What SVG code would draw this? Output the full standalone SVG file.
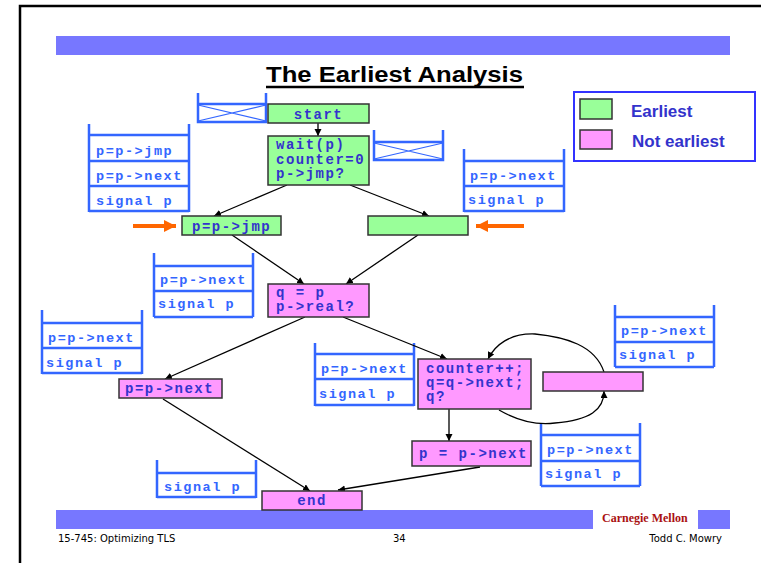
<svg xmlns="http://www.w3.org/2000/svg" width="761" height="563" viewBox="0 0 761 563">
<style>
.band{fill:#7777ff}
.green{fill:#99ff99;stroke:#333;stroke-width:1.5}
.pink{fill:#ff99ff;stroke:#333;stroke-width:1.5}
.nt{font-family:"Liberation Mono","Courier New",monospace;font-weight:bold;font-size:14px;letter-spacing:1.5px;fill:#3333cc}
.an{fill:none;stroke:#3366ff;stroke-width:2.5}
.ax{fill:none;stroke:#3366ff;stroke-width:1.2}
.at{font-family:"Liberation Mono","Courier New",monospace;font-weight:bold;font-size:13.5px;letter-spacing:1.55px;fill:#3366ff}
.edge{fill:none;stroke:#000;stroke-width:1.3;marker-end:url(#ah)}
.orange{fill:none;stroke:#ff6600;stroke-width:4;marker-end:url(#oh)}
.foot{font-family:"DejaVu Sans",sans-serif;font-size:10px;fill:#000}
.leg{font-family:"Liberation Sans",Arial,sans-serif;font-weight:bold;font-size:17px;fill:#3333cc}
</style>
<defs>
<marker id="ah" markerWidth="8" markerHeight="8" refX="7" refY="3.5" orient="auto" markerUnits="userSpaceOnUse">
<path d="M0,0 L7,3.5 L0,7 Z" fill="#000"/>
</marker>
<marker id="oh" markerWidth="14" markerHeight="14" refX="12" refY="6" orient="auto" markerUnits="userSpaceOnUse">
<path d="M0,0 L12,6 L0,12 Z" fill="#ff6600"/>
</marker>
</defs>
<rect width="761" height="563" fill="#fff"/>
<!-- frame -->
<path d="M20,563 V6 H761" fill="none" stroke="#000" stroke-width="2.5"/>
<!-- bands -->
<rect class="band" x="56" y="36" width="674" height="19"/>
<rect class="band" x="56" y="510" width="537" height="19"/>
<rect class="band" x="698" y="510" width="32" height="19"/>
<text x="602" y="522" font-family="Liberation Serif,Times New Roman,serif" font-weight="bold" font-size="12px" fill="#aa1111">Carnegie Mellon</text>
<text class="foot" x="58" y="542">15-745: Optimizing TLS</text>
<text class="foot" x="393" y="542">34</text>
<text class="foot" x="722" y="542" text-anchor="end">Todd C. Mowry</text>
<!-- title -->
<text x="266" y="82" font-family="Liberation Sans,Arial,sans-serif" font-weight="bold" font-size="22px" fill="#000" textLength="257" lengthAdjust="spacingAndGlyphs">The Earliest Analysis</text>
<line x1="266" y1="87" x2="524" y2="87" stroke="#000" stroke-width="2.5"/>
<!-- legend -->
<g id="legend">
<rect x="574" y="92" width="181" height="69" fill="#fff" stroke="#3333ff" stroke-width="2"/>
<rect x="580" y="99" width="32" height="20" fill="#99ff99" stroke="#333" stroke-width="1.5"/>
<rect x="580" y="130" width="32" height="19" fill="#ff99ff" stroke="#333" stroke-width="1.5"/>
<text class="leg" x="631" y="117">Earliest</text>
<text class="leg" x="632" y="147">Not earliest</text>
</g>
<!-- annotation boxes -->
<g id="ann-cross1">
<path class="an" d="M198,93 V122 H266 V93 M198,104 H266"/>
<path class="ax" d="M198,105 L266,121 M198,121 L266,105"/>
</g>
<g id="ann-cross2">
<path class="an" d="M374,130 V160 H443 V130 M374,142 H443"/>
<path class="ax" d="M374,143 L443,159 M374,159 L443,143"/>
</g>
<g id="ann-topleft">
<path class="an" d="M89,124 V212 M189,124 V212 M89,135 H189 M89,161 H189 M89,186 H189 M89,211 H189"/>
<text class="at" x="96" y="155">p=p-&gt;jmp</text>
<text class="at" x="96" y="180">p=p-&gt;next</text>
<text class="at" x="96" y="205">signal p</text>
</g>
<g id="ann-topright">
<path class="an" d="M464,149 V212 M564,149 V212 M464,161 H564 M464,186 H564 M464,211 H564"/>
<text class="at" x="470" y="180">p=p-&gt;next</text>
<text class="at" x="468" y="204">signal p</text>
</g>
<g id="ann-mid">
<path class="an" d="M154,253 V317 M253,253 V317 M154,266 H253 M154,291 H253 M154,317 H253"/>
<text class="at" x="160" y="284">p=p-&gt;next</text>
<text class="at" x="158" y="308">signal p</text>
</g>
<g id="ann-left">
<path class="an" d="M42,310 V374 M142,310 V374 M42,323 H142 M42,348 H142 M42,373 H142"/>
<text class="at" x="48" y="342">p=p-&gt;next</text>
<text class="at" x="46" y="367">signal p</text>
</g>
<g id="ann-center">
<path class="an" d="M315,343 V406 M414,343 V406 M315,354 H414 M315,379 H414 M315,405 H414"/>
<text class="at" x="321" y="373">p=p-&gt;next</text>
<text class="at" x="319" y="398">signal p</text>
</g>
<g id="ann-right">
<path class="an" d="M615,305 V367 M714,305 V367 M615,317 H714 M615,342 H714 M615,367 H714"/>
<text class="at" x="621" y="335">p=p-&gt;next</text>
<text class="at" x="619" y="359">signal p</text>
</g>
<g id="ann-lowright">
<path class="an" d="M541,423 V486 M640,423 V486 M541,435 H640 M541,461 H640 M541,486 H640"/>
<text class="at" x="547" y="454">p=p-&gt;next</text>
<text class="at" x="545" y="478">signal p</text>
</g>
<g id="ann-bottom">
<path class="an" d="M157,460 V498 M256,460 V498 M157,473 H256 M157,497 H256"/>
<text class="at" x="164" y="491">signal p</text>
</g>
<!-- connectors -->
<g id="connectors">
<path class="edge" d="M318,123 L318,136"/>
<path class="edge" d="M287,185 L214,216"/>
<path class="edge" d="M350,185 L429,216"/>
<path class="edge" d="M232,235 L304,284"/>
<path class="edge" d="M418,235 L346,284"/>
<path class="edge" d="M305,317 L165,379"/>
<path class="edge" d="M343,317 L447,359"/>
<path class="edge" d="M449,409 L449,441"/>
<path class="edge" d="M499,410 C520,422 540,425 555,423 C590,420 604,410 604,391"/>
<path class="edge" d="M604,372 C595,345 565,337 535,334 C510,333 495,345 488,359"/>
<path class="edge" d="M163,399 L310,491"/>
<path class="edge" d="M480,467 L338,490"/>
<path class="orange" d="M133,226 L176,226"/>
<path class="orange" d="M524,226 L476,226"/>
</g>
<!-- nodes -->
<g id="n-start"><rect class="green" x="268" y="104" width="101" height="19"/><text class="nt" x="318.5" y="119" text-anchor="middle">start</text></g>
<g id="n-wait"><rect class="green" x="268" y="136" width="101" height="49"/>
<text class="nt" x="276" y="149">wait(p)</text><text class="nt" x="276" y="163.5">counter=0</text><text class="nt" x="276" y="178">p-&gt;jmp?</text></g>
<g id="n-jmp"><rect class="green" x="182" y="216" width="99" height="19"/><text class="nt" x="192" y="231">p=p-&gt;jmp</text></g>
<g id="n-empty-green"><rect class="green" x="368" y="216" width="100" height="19"/></g>
<g id="n-q"><rect class="pink" x="268" y="284" width="101" height="33"/>
<text class="nt" x="276" y="297">q = p</text><text class="nt" x="276" y="311">p-&gt;real?</text></g>
<g id="n-next-left"><rect class="pink" x="119" y="379" width="103" height="19"/><text class="nt" x="125" y="393">p=p-&gt;next</text></g>
<g id="n-counter"><rect class="pink" x="418" y="359" width="113" height="50"/>
<text class="nt" x="426" y="373">counter++;</text><text class="nt" x="426" y="387">q=q-&gt;next;</text><text class="nt" x="426" y="401">q?</text></g>
<g id="n-empty-pink"><rect class="pink" x="543" y="372" width="100" height="19"/></g>
<g id="n-next-right"><rect class="pink" x="412" y="441" width="119" height="25"/><text class="nt" x="419" y="458">p = p-&gt;next</text></g>
<g id="n-end"><rect class="pink" x="262" y="491" width="100" height="19"/><text class="nt" x="312" y="505" text-anchor="middle">end</text></g>
</svg>
